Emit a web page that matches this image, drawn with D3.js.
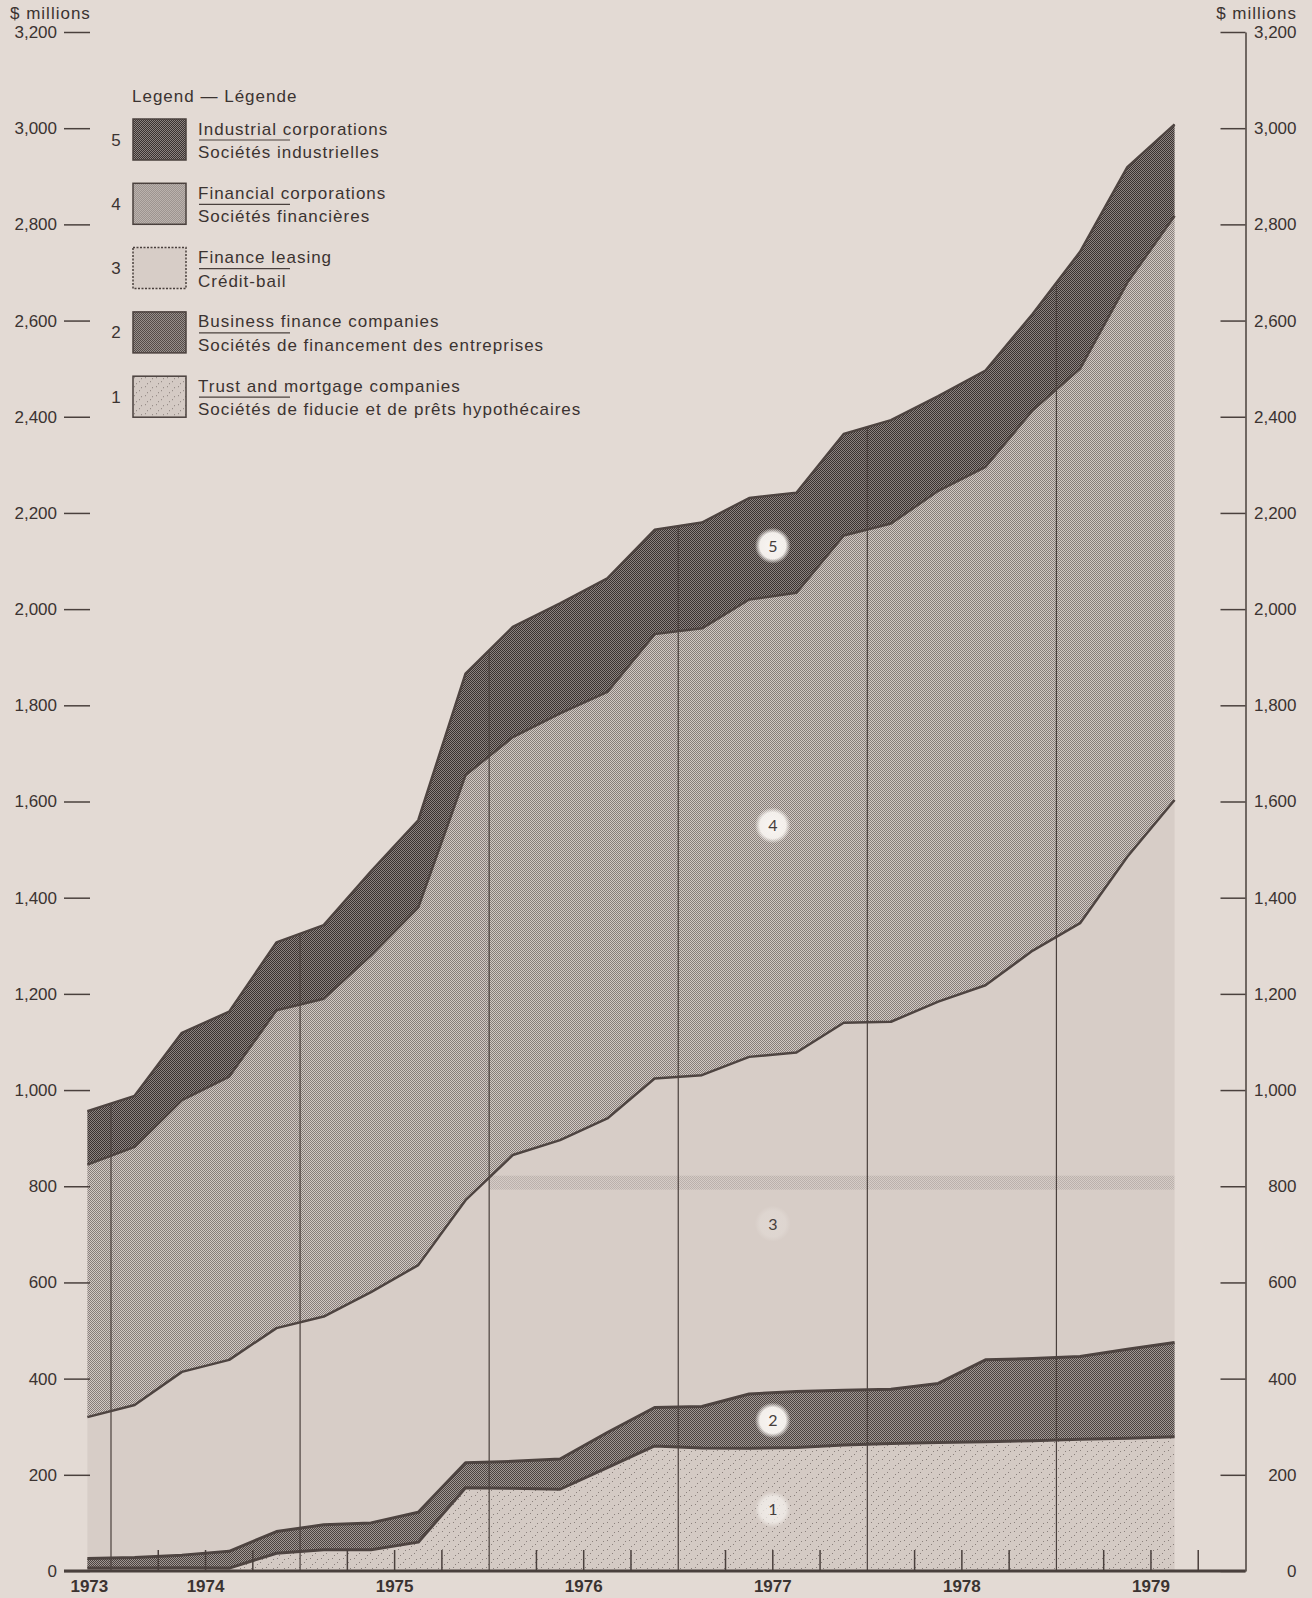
<!DOCTYPE html>
<meta charset="utf-8">
<style>
body { margin: 0; background: #e3dad4; }
svg { display: block; }
text { font-family: "Liberation Sans", Arial, sans-serif; fill: #3b3331; }
.axis text { font-size: 17px; }
.axis line, .axis path { stroke: #4a403d; stroke-width: 1.5; }
.year { font-size: 17px; font-weight: bold; }
.legend text, .unit { font-size: 17px; letter-spacing: 1px; }
.edge { fill: none; stroke: #4e4441; stroke-linejoin: round; }
.yearline { stroke: #4a403d; stroke-width: 1.2; }
.qtick { stroke: #4a403d; stroke-width: 1.5; }
.tag text { font-family: Lato, sans-serif; font-size: 16px; fill: #463e3b; }
</style>
<svg width="1312" height="1598"></svg>
<script src="https://d3js.org/d3.v7.min.js"></script>
<script>

// quarterly values, $ millions
var quarters = ["1973 Q4","1974 Q1","1974 Q2","1974 Q3","1974 Q4","1975 Q1","1975 Q2","1975 Q3","1975 Q4",
  "1976 Q1","1976 Q2","1976 Q3","1976 Q4","1977 Q1","1977 Q2","1977 Q3","1977 Q4",
  "1978 Q1","1978 Q2","1978 Q3","1978 Q4","1979 Q1","1979 Q2","1979 Q3"]

var trust      = [6,6,7,6,37,44,44,60,173,172,170,215,260,256,255,257,262,265,267,269,271,274,276,279]
var business   = [20,22,26,35,45,52,56,62,52,56,63,73,80,86,113,116,114,113,123,170,171,172,185,196]
var leasing    = [294,317,381,398,423,433,480,514,546,637,663,653,684,689,701,705,764,764,794,779,848,901,1024,1128]
var financial  = [525,537,565,589,661,661,700,744,884,869,887,887,924,929,951,956,1013,1036,1062,1078,1124,1153,1194,1215]
var industrial = [111,106,140,135,141,153,175,181,211,229,229,236,217,220,211,208,211,215,197,200,200,243,240,190]

var yTicks = [0,200,400,600,800,1000,1200,1400,1600,1800,2000,2200,2400,2600,2800,3000,3200]
var years = [1973,1974,1975,1976,1977,1978,1979]

var legendNum = [5,4,3,2,1]
var legendEn = ["Industrial corporations","Financial corporations","Finance leasing","Business finance companies","Trust and mortgage companies"]
var legendFr = ["Sociétés industrielles","Sociétés financières","Crédit-bail","Sociétés de financement des entreprises","Sociétés de fiducie et de prêts hypothécaires"]

var keys = ["trust","business","leasing","financial","industrial"]
var rows = quarters.map(function(q, i){
  return { t: +q.slice(0,4) + (+q.slice(6) - 0.5) / 4,
    trust: trust[i], business: business[i], leasing: leasing[i], financial: financial[i], industrial: industrial[i] }
})
var stack = d3.stack().keys(keys)(rows)

var svg = d3.select("svg")
var defs = svg.append("defs")

var x = d3.scaleLinear().domain([1974, 1980]).range([111, 1245.5])
var y = d3.scaleLinear().domain([0, 3200]).range([1571, 32])

function checker(id, base, dot) {
  var p = defs.append("pattern").attr("id", id).attr("patternUnits", "userSpaceOnUse").attr("width", 2).attr("height", 2)
  p.append("rect").attr("width", 2).attr("height", 2).attr("fill", base)
  p.append("rect").attr("width", 1).attr("height", 1).attr("fill", dot)
  p.append("rect").attr("x", 1).attr("y", 1).attr("width", 1).attr("height", 1).attr("fill", dot)
}
checker("p5", "#8c8380", "#3a3230")
checker("p4", "#d2c9c4", "#867d79")
checker("p2", "#a09793", "#4b4340")

var sp = defs.append("pattern").attr("id", "p1").attr("patternUnits", "userSpaceOnUse").attr("width", 11).attr("height", 9)
sp.append("rect").attr("width", 11).attr("height", 9).attr("fill", "#d4cac4")
;[[2,1],[7,5],[4,7],[9,2]].forEach(function(d){
  sp.append("rect").attr("x", d[0]).attr("y", d[1]).attr("width", 1).attr("height", 1).attr("fill", "#8a807c")
})

var fills = { trust: "url(#p1)", business: "url(#p2)", leasing: "#d7cdc7", financial: "url(#p4)", industrial: "url(#p5)" }
var widths = { trust: 3, business: 3, leasing: 2.5, financial: 2.5, industrial: 2.5 }

var glow = defs.append("radialGradient").attr("id", "glow")
glow.append("stop").attr("offset", "0%").attr("stop-color", "#f8f5f2")
glow.append("stop").attr("offset", "72%").attr("stop-color", "#f3efeb")
glow.append("stop").attr("offset", "100%").attr("stop-color", "#f3efeb").attr("stop-opacity", 0)

var area = d3.area()
  .x(function(d){ return x(d.data.t) })
  .y0(function(d){ return y(d[0]) })
  .y1(function(d){ return y(d[1]) })

var edge = d3.line()
  .x(function(d){ return x(d.data.t) })
  .y(function(d){ return y(d[1]) })

var outer = stack[stack.length - 1]
defs.append("clipPath").attr("id", "total")
  .append("path").attr("d", d3.area().x(function(d){ return x(d.data.t) }).y0(y(0)).y1(function(d){ return y(d[1]) })(outer))

svg.selectAll(".layer").data(stack).enter().append("path")
  .attr("class", "layer")
  .attr("d", area)
  .attr("fill", function(d){ return fills[d.key] })

// faint printed band across layer 3
svg.append("rect")
  .attr("x", x(1976)).attr("width", x(rows[rows.length - 1].t) - x(1976))
  .attr("y", y(822)).attr("height", y(793) - y(822))
  .attr("fill", "url(#p4)").attr("opacity", 0.35)
  .attr("clip-path", "url(#total)")

svg.append("g").attr("clip-path", "url(#total)")
  .selectAll("line").data(years.slice(1)).enter().append("line")
  .attr("class", "yearline")
  .attr("x1", function(d){ return x(d) }).attr("x2", function(d){ return x(d) })
  .attr("y1", y(0)).attr("y2", y(3200))

svg.selectAll(".edge").data(stack).enter().append("path")
  .attr("class", "edge")
  .attr("d", edge)
  .attr("stroke-width", function(d){ return widths[d.key] })

// axes
svg.append("g").attr("class", "axis").attr("transform", "translate(90,0)")
  .call(d3.axisLeft(y).tickValues(yTicks).tickSize(26).tickPadding(7).tickFormat(d3.format(",")))
  .call(function(g){ g.select(".domain").remove() })

svg.append("g").attr("class", "axis").attr("transform", "translate(1245.5,0)")
  .call(d3.axisRight(y).tickValues(yTicks).tickSize(-25).tickSizeOuter(0).tickFormat(d3.format(",")))
  .call(function(g){ g.selectAll("text").attr("text-anchor", "end").attr("x", 51) })

svg.append("line")
  .attr("x1", 64).attr("x2", 1245.5).attr("y1", y(0)).attr("y2", y(0))
  .attr("stroke", "#4a403d").attr("stroke-width", 3)

var qt = []
for (var yr = 1974; yr < 1980; yr++) { qt.push(yr + 0.25, yr + 0.5, yr + 0.75) }
svg.selectAll(".qtick").data(qt).enter().append("line")
  .attr("class", "qtick")
  .attr("x1", function(d){ return x(d) }).attr("x2", function(d){ return x(d) })
  .attr("y1", y(0) - 21).attr("y2", y(0))

svg.selectAll(".year").data(years).enter().append("text")
  .attr("class", "year")
  .attr("text-anchor", "middle")
  .attr("x", function(d, i){ return i == 0 ? x(rows[0].t) + 2 : x(d + 0.5) })
  .attr("y", 1592)
  .text(function(d){ return d })

svg.append("text").attr("class", "unit").attr("x", 10).attr("y", 19).text("$ millions")
svg.append("text").attr("class", "unit").attr("x", 1297).attr("y", 19).attr("text-anchor", "end").text("$ millions")

// numbered tags in the middle of each layer at mid-1977
var tagT = 1977.5
var j = d3.bisector(function(d){ return d.t }).left(rows, tagT)
var f = (tagT - rows[j - 1].t) / (rows[j].t - rows[j - 1].t)
var tagAlpha = [0.75, 1, 0.25, 1, 1]
var tags = svg.selectAll(".tag").data(stack).enter().append("g")
  .attr("class", "tag")
  .attr("transform", function(s){
    var lo = s[j - 1][0] + f * (s[j][0] - s[j - 1][0])
    var hi = s[j - 1][1] + f * (s[j][1] - s[j - 1][1])
    return "translate(" + x(tagT) + "," + y((lo + hi) / 2) + ")"
  })
tags.append("circle").attr("r", 18).attr("fill", "url(#glow)").attr("opacity", function(d, i){ return tagAlpha[i] })
tags.append("text").attr("text-anchor", "middle").attr("dy", "0.36em").text(function(d, i){ return i + 1 })

// legend
var legend = svg.append("g").attr("class", "legend")
legend.append("text").attr("x", 132).attr("y", 102).text("Legend — Légende")

var item = legend.selectAll(".item").data(legendNum).enter().append("g")
  .attr("class", "item")
  .attr("transform", function(d, i){ return "translate(0," + (119 + i * 64.3) + ")" })

item.append("rect")
  .attr("x", 133).attr("width", 53).attr("height", 41)
  .attr("fill", function(d){ return fills[keys[d - 1]] })
  .attr("stroke", "#4a403d").attr("stroke-width", 1.5)
  .attr("stroke-dasharray", function(d){ return d == 3 ? "2,1.5" : null })
item.append("text").attr("x", 116).attr("y", 26.5).attr("text-anchor", "middle").style("letter-spacing", "0px").text(function(d){ return d })
item.append("text").attr("x", 198).attr("y", 15.5).text(function(d, i){ return legendEn[i] })
item.append("text").attr("x", 198).attr("y", 39).text(function(d, i){ return legendFr[i] })
item.append("line").attr("x1", 199).attr("x2", 290).attr("y1", 21).attr("y2", 21)
  .attr("stroke", "#4a403d").attr("stroke-width", 1.2)

</script>
